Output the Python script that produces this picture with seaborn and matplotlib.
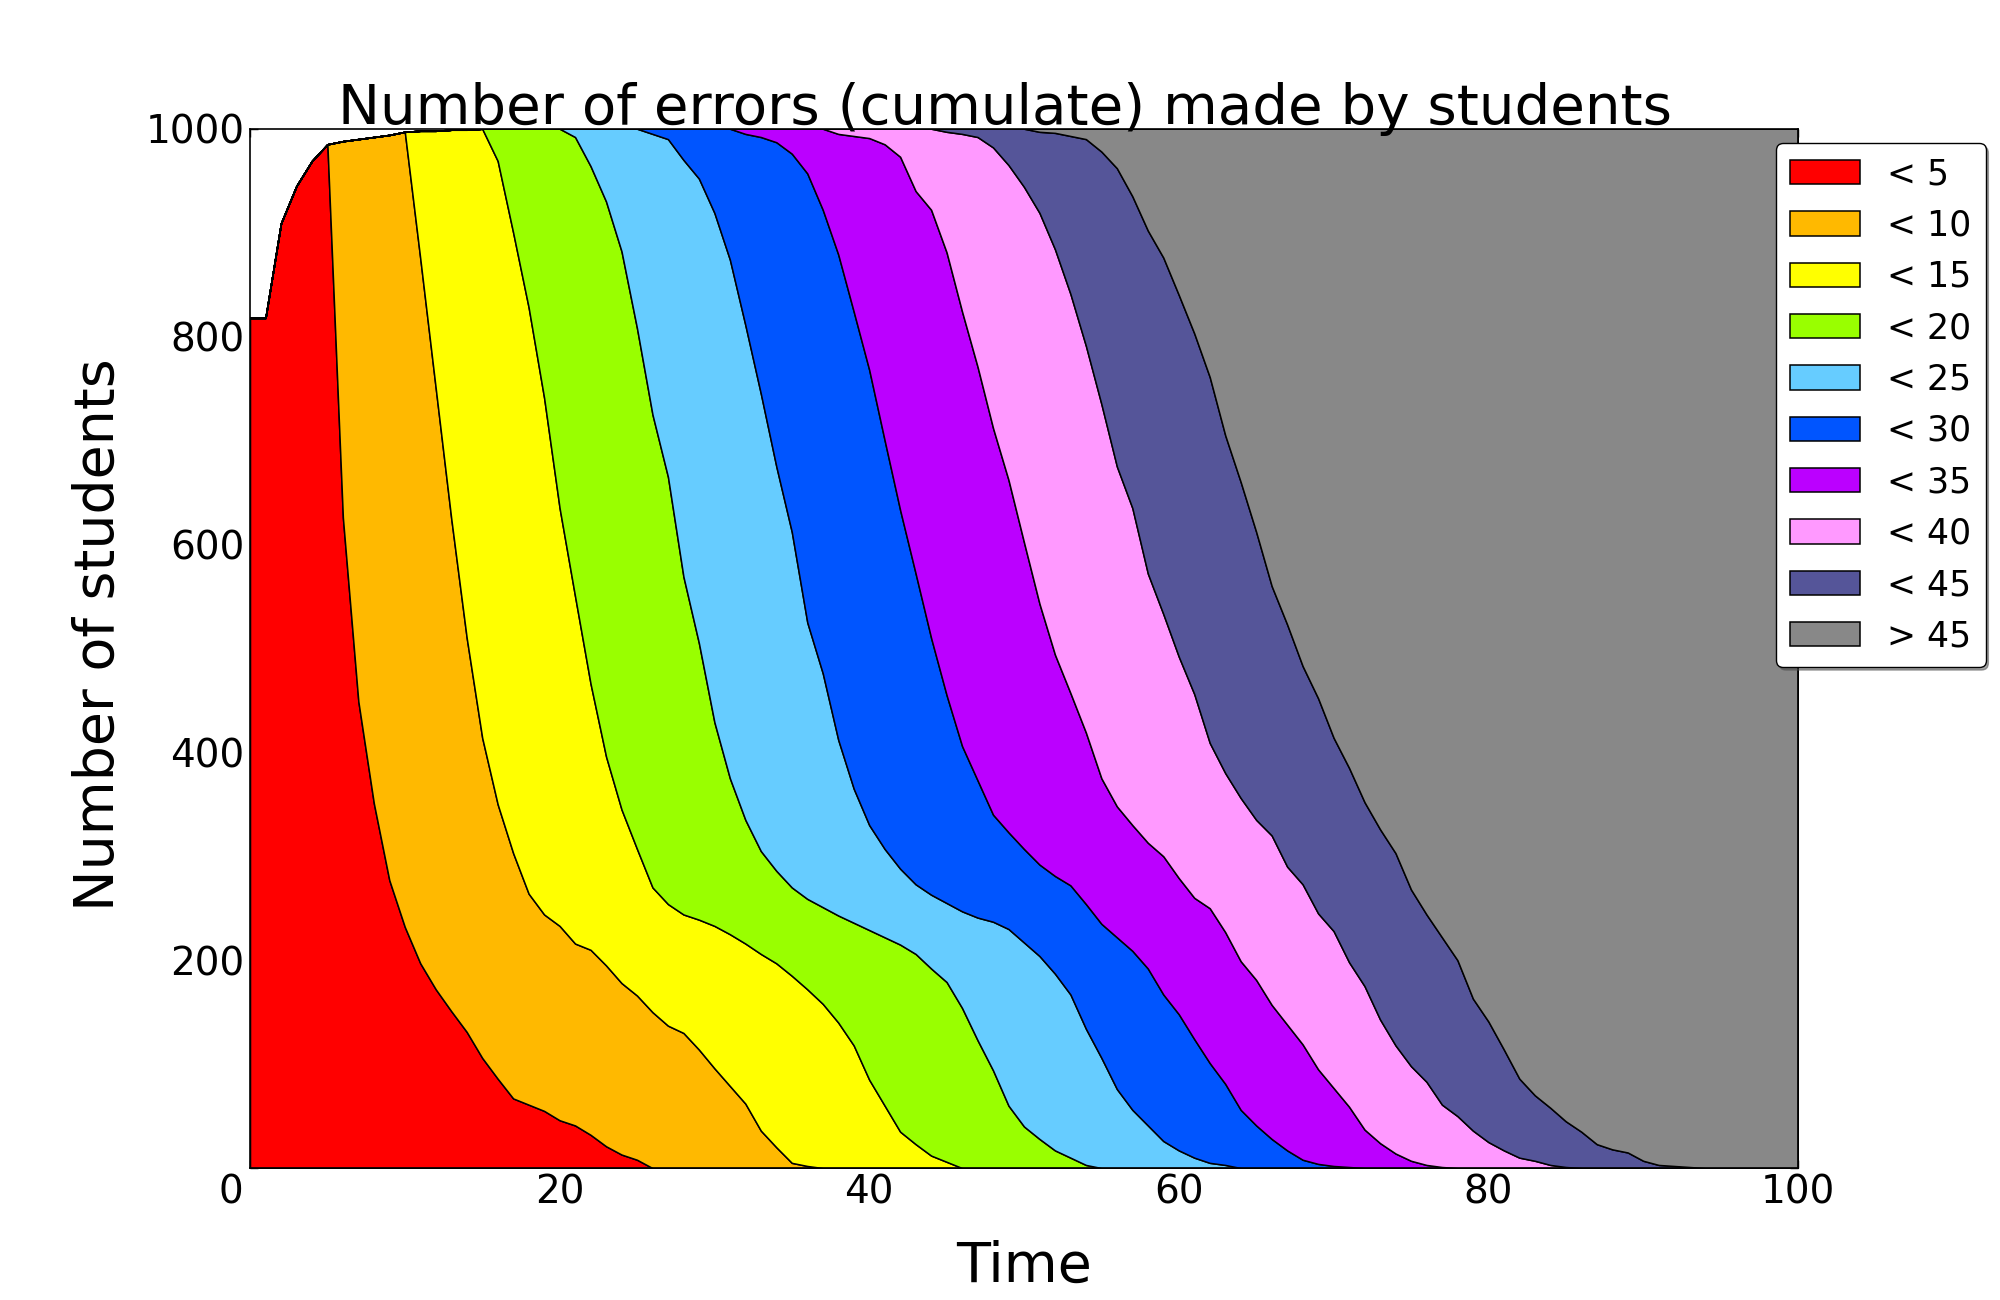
import numpy as np
import matplotlib
matplotlib.use("Agg")
import matplotlib.pyplot as plt
import seaborn as sns

# time axis (one reading per time step)
t = np.arange(0, 101)

# number of students still in the game (top edge of the stack)
total = [818, 818, 909, 945, 969, 985, 988, 990, 992, 994, 997, 998, 998,
         999, 999] + [1000] * 86

# cumulative boundaries: students with fewer than N errors,
# read from the time the curve leaves the top edge until it reaches 0
lt5_start = 6
lt5 = [626, 449, 351, 277, 232, 197, 172, 151, 131, 106, 86, 67, 61, 55,
       46, 41, 32, 21, 13, 8]
lt10_start = 11
lt10 = [875, 750, 625, 510, 414, 350, 303, 264, 244, 233, 216, 210, 195,
        178, 166, 150, 137, 130, 114, 96, 79, 62, 36, 20, 5, 2]
lt15_start = 16
lt15 = [969, 900, 828, 741, 635, 550, 466, 396, 345, 307, 270, 254, 244,
        239, 233, 225, 216, 206, 197, 185, 172, 158, 140, 118, 85, 60, 35,
        23, 12, 6]
lt20_start = 21
lt20 = [992, 964, 930, 882, 808, 725, 665, 569, 505, 429, 375, 335, 305,
        286, 270, 259, 251, 243, 236, 229, 222, 215, 206, 192, 179, 154,
        123, 94, 60, 40, 28, 17, 10, 3]
lt25_start = 26
lt25 = [995, 990, 970, 952, 919, 874, 811, 745, 675, 612, 525, 476, 412,
        365, 330, 307, 288, 273, 263, 255, 247, 241, 237, 230, 217, 204,
        187, 167, 134, 106, 76, 56, 41, 26, 17, 10, 5, 3]
lt30_start = 32
lt30 = [995, 992, 987, 976, 957, 922, 879, 824, 768, 700, 633, 572, 510,
        455, 406, 373, 340, 323, 307, 292, 281, 272, 254, 235, 222, 209,
        192, 167, 148, 124, 101, 81, 56, 41, 28, 17, 8, 4, 2, 1]
lt35_start = 38
lt35 = [995, 993, 991, 985, 973, 940, 922, 881, 824, 771, 712, 662, 602,
        543, 494, 457, 419, 375, 348, 330, 313, 300, 279, 260, 250, 227,
        199, 181, 157, 138, 119, 95, 77, 59, 37, 24, 14, 7, 3, 1]
lt40_start = 45
lt40 = [997, 995, 992, 982, 965, 944, 919, 884, 841, 791, 735, 675, 635,
        572, 533, 492, 456, 409, 380, 356, 335, 320, 290, 273, 245, 228,
        198, 175, 143, 118, 98, 83, 61, 50, 36, 25, 17, 10, 7, 3, 1]
lt45_start = 51
lt45 = [997, 996, 993, 990, 978, 962, 935, 902, 876, 840, 803, 761, 705,
        660, 612, 560, 523, 483, 452, 414, 385, 352, 326, 303, 268, 244,
        222, 200, 163, 141, 114, 86, 70, 58, 45, 35, 23, 18, 15, 7, 3, 2, 1]

labels = ["< 5", "< 10", "< 15", "< 20", "< 25", "< 30", "< 35", "< 40",
          "< 45", "> 45"]
colors = ["#ff0000", "#ffb900", "#ffff00", "#99ff00", "#66ccff", "#0055ff",
          "#bb00ff", "#ff99ff", "#555599", "#888888"]
xticks = [0, 20, 40, 60, 80, 100]
yticks = [0, 200, 400, 600, 800, 1000]


def boundary(start, drop):
    # before `start` every student is below the threshold
    vals = list(total[:start]) + drop
    return np.array(vals + [0] * (len(t) - len(vals)), dtype=float)


cumul = [boundary(lt5_start, lt5), boundary(lt10_start, lt10),
         boundary(lt15_start, lt15), boundary(lt20_start, lt20),
         boundary(lt25_start, lt25), boundary(lt30_start, lt30),
         boundary(lt35_start, lt35), boundary(lt40_start, lt40),
         boundary(lt45_start, lt45), np.array(total, dtype=float)]
layers = [cumul[0]] + [cumul[i] - cumul[i - 1] for i in range(1, len(cumul))]

sns.set_style("white", {
    "axes.edgecolor": "black",
    "xtick.bottom": True, "xtick.top": True,
    "ytick.left": True, "ytick.right": True,
    "xtick.direction": "in", "ytick.direction": "in",
    "xtick.color": "black", "ytick.color": "black",
    "text.color": "black", "axes.labelcolor": "black",
})
plt.rcParams["font.family"] = ["DejaVu Sans"]

fig, ax = plt.subplots(figsize=(20, 13), dpi=100)
fig.subplots_adjust(left=0.125, right=0.899, top=0.901, bottom=0.1015)

ax.stackplot(t, layers, colors=colors, labels=labels,
             edgecolor="black", linewidth=1.1)

ax.set_xlim(0, 100)
ax.set_ylim(0, 1000)
# the shared origin gets a single "0" in the corner
ax.set_xticks(xticks, [""] + [str(v) for v in xticks[1:]])
ax.set_yticks(yticks, [""] + [str(v) for v in yticks[1:]])
ax.tick_params(labelsize=28, length=6, width=1, pad=4)
ax.annotate("0", xy=(0, 0), xycoords="axes fraction", xytext=(-5, -4),
            textcoords="offset points", ha="right", va="top", fontsize=28)
for side in ax.spines.values():
    side.set_linewidth(1.2)

ax.set_title("Number of errors (cumulate) made by students", fontsize=40.5,
             pad=3.5, x=0.488, y=1.0)
ax.set_xlabel("Time", fontsize=40, labelpad=20)
ax.set_ylabel("Number of students", fontsize=40, labelpad=14, y=0.513)

leg = ax.legend(loc="upper left", bbox_to_anchor=(0.986, 0.986),
                borderaxespad=0, fontsize=25, shadow=True, fancybox=True,
                framealpha=1, edgecolor="black", handlelength=2.0,
                handleheight=0.7, labelspacing=0.5, handletextpad=0.8,
                borderpad=0.4)
leg.get_frame().set_linewidth(1.0)

fig.savefig("out.png", dpi=100)
